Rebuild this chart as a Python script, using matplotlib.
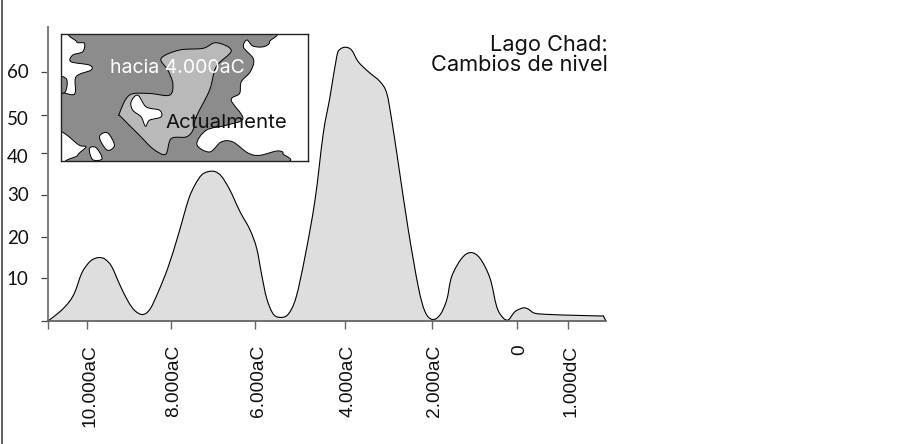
import numpy as np
import matplotlib
matplotlib.use("Agg")
import matplotlib.pyplot as plt
from matplotlib.lines import Line2D
from matplotlib.path import Path
from matplotlib.patches import PathPatch

plt.rcParams['font.family'] = ['Inter', 'DejaVu Sans']

# Position along the (uneven) time axis and lake level
time_pos = [48.3, 60, 69.3, 75, 81.7, 88.3, 93.3, 99.3, 105, 111.7, 120, 128.3, 135, 142.7, 150, 158.3, 168.3,
            178.3, 188.3, 195, 201.7, 208.3, 215, 221.7, 230, 240, 250, 256.7, 261.7, 266.7, 273.3, 280.7, 288.3,
            296, 305, 315, 323.3, 330, 336.7, 340, 345.7, 351.7, 358.3, 368.3, 380, 386.7, 391.7, 398.3, 408.3,
            418.3, 425, 432.3, 440, 446.7, 451.7, 461.7, 470.7, 480, 490, 496.7, 502.7, 508.3, 515, 523.3,
            528.3, 535, 550, 575, 600, 603.3, 604.5, 605.7]
level = [0, 2.2, 4.6, 7.0, 11.5, 13.9, 14.9, 15.3, 14.9, 13.1, 8.6, 4.6, 2.4, 1.5, 2.8, 7.0, 13.1,
         20.8, 29.2, 32.9, 35.3, 36.1, 36.1, 34.9, 31.6, 26.4, 22, 17.5, 11.1, 5.4, 1.6, 0.8, 1.6,
         5.6, 15.5, 29.2, 45.4, 54.2, 63.9, 65.7, 66.2, 65.5, 62.7, 60.3, 57.9, 55.1, 48.6, 38.1, 22,
         8.2, 2.2, 0.3, 1.4, 5, 10.7, 15.1, 16.5, 15.1, 10.3, 3.4, 0.8, 0.2, 2.2, 3.1,
         2.8, 1.8, 1.5, 1.3, 1.15, 1.1, 0.6, 0]
x_tick_pos = [87, 171, 255, 345, 432, 517, 568]
x_tick_labels = ['10.000aC', '8.000aC', '6.000aC', '4.000aC', '2.000aC', '0', '1.000dC']
y_tick_pos = [10.4, 20.3, 30.4, 40.6, 49.8, 60.2]
y_label_pos = [10.0, 20.0, 30.2, 39.6, 48.7, 60.0]
y_tick_labels = ['10', '20', '30', '40', '50', '60']

# Map regions, outlined in inset coordinates
dark_region = [(135,30),(665,30),(690,65),(672,80),(640,78),(622,60),(612,82),(642,118),(632,155),(605,185),
               (600,220),(575,240),(610,295),(560,315),(500,330),(472,372),(510,395),(545,365),(580,365),
               (625,398),(660,405),(712,392),(730,400),(700,430),(125,430),(115,405),(140,380),(120,375),
               (90,350),(55,315),(55,222),(105,222),(110,170),(155,150),(150,135),(95,125),(100,105),
               (130,95),(135,70),(112,65)]
dark_patch = [(55,170),(82,178),(78,215),(55,215)]
islands = [[(182,345),(205,338),(225,375),(205,390),(185,365)],
           [(150,385),(170,382),(188,415),(160,418)]]
light_region = [(365,115),(420,90),(490,85),(530,68),(575,92),(530,140),(510,210),(470,290),(460,330),
                (440,350),(395,355),(378,402),(340,385),(300,345),(245,290),(240,280),(270,225),(330,220),
                (390,225),(400,190),(385,150)]
light_hole = [(275,245),(295,225),(320,260),(360,270),(365,290),(330,300),(318,318),(305,290),(280,270)]


def smooth_path(xs, ys, closed=False):
    p = np.column_stack([xs, ys]).astype(float)
    n = len(p)
    verts = [p[0]]
    codes = [Path.MOVETO]
    last = n if closed else n - 1
    for i in range(last):
        p0 = p[(i - 1) % n] if (closed or i > 0) else p[i]
        p1 = p[i]
        p2 = p[(i + 1) % n]
        p3 = p[(i + 2) % n] if (closed or i + 2 < n) else p2
        verts += [p1 + (p2 - p0) / 6, p2 - (p3 - p1) / 6, p2]
        codes += [Path.CURVE4] * 3
    return verts, codes


W, H = 901, 444
BASE = 320.7
SCALE = 4.13
fig = plt.figure(figsize=(W / 100, H / 100), dpi=100)
ax = fig.add_axes([48 / W, 1 - BASE / H, (606 - 48) / W, (BASE - 27) / H])
ax.set_xlim(48, 606)
ax.set_ylim(0, (BASE - 27) / SCALE)

verts, codes = smooth_path(time_pos, level)
ax.add_patch(PathPatch(Path(verts, codes), facecolor='#dedede', edgecolor='black', lw=0.8, clip_on=False))

for s in ['top', 'right']:
    ax.spines[s].set_visible(False)
ax.spines['left'].set_color('#808080')
ax.spines['left'].set_linewidth(1.5)
ax.spines['bottom'].set_color('#555555')
ax.spines['bottom'].set_linewidth(1.2)

ax.set_xticks([48.3] + x_tick_pos)
ax.set_xticklabels([''] + x_tick_labels, rotation=90, fontsize=13.8, color='#111111', family='Liberation Sans')
ax.set_yticks([0] + y_tick_pos)
ax.set_yticklabels([])
ax.tick_params(axis='x', length=5.8, width=1.0, color='#666666', pad=11.5)
ax.tick_params(axis='y', length=5.4, width=0.9, color='#444444')
for lab in ax.get_xticklabels():
    lab.set_transform(lab.get_transform() + matplotlib.transforms.ScaledTranslation(3 / 100, 0, fig.dpi_scale_trans))

for yv, txt in zip(y_label_pos, y_tick_labels):
    ax.annotate(txt, xy=(0, yv), xycoords=('axes fraction', 'data'), xytext=(-19.5 * 0.72, 0),
                textcoords='offset points', ha='right', va='center', fontsize=13.5, color='#111111', family='Lato')

fig.add_artist(Line2D([2.0 / W, 2.0 / W], [0, 1], color='#444444', lw=1.2))

ax.text(608, (BASE - 45) / SCALE, 'Lago Chad:', ha='right', va='center', fontsize=15.7, color='#111111')
ax.text(608, (BASE - 65) / SCALE, 'Cambios de nivel', ha='right', va='center', fontsize=15.7, color='#111111')

# Inset map
inset = fig.add_axes([61 / W, 1 - 161 / H, (308 - 61) / W, (161 - 34) / H])
inset.set_xlim(65, 805)
inset.set_ylim(422, 42)
inset.set_xticks([])
inset.set_yticks([])
for s in inset.spines.values():
    s.set_color('#222222')
    s.set_linewidth(1.0)


def blob(points, face, edge='black', lw=0.7):
    xs, ys = zip(*points)
    v, c = smooth_path(xs, ys, closed=True)
    inset.add_patch(PathPatch(Path(v, c), facecolor=face, edgecolor=edge, lw=lw))


blob(dark_region, '#8c8c8c')
blob(dark_patch, '#8c8c8c')
for isl in islands:
    blob(isl, 'white')
blob(light_region, '#b9b9b9')
blob(light_hole, 'white')
inset.text(415, 144, 'hacia 4.000aC', color='white', ha='center', va='center', fontsize=14)
inset.text(560, 307, 'Actualmente', color='#111111', ha='center', va='center', fontsize=14.7)

fig.savefig('out.png', dpi=100)
